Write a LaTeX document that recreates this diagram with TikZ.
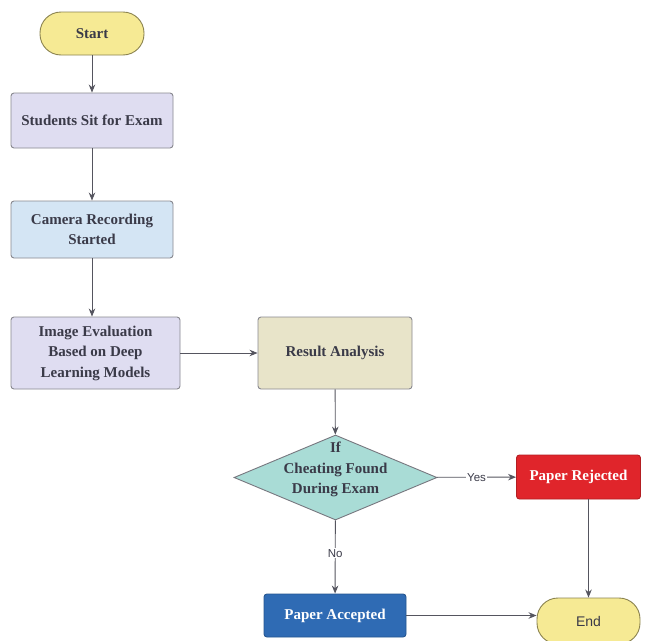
\documentclass[tikz,border=0pt]{standalone}
\usepackage{fontspec}
\setmainfont{Liberation Serif}
\newfontfamily\labelfont{Liberation Sans}
\usetikzlibrary{shapes.geometric,arrows.meta}
\definecolor{txt}{HTML}{3A3A48}
\definecolor{edge}{HTML}{55555F}
\definecolor{startfill}{HTML}{F6EA94}
\definecolor{startdraw}{HTML}{8C8450}
\definecolor{lav}{HTML}{DFDDF1}
\definecolor{sky}{HTML}{D4E5F4}
\definecolor{beige}{HTML}{E8E4C9}
\definecolor{teal}{HTML}{A9DCD6}
\definecolor{rejfill}{HTML}{E0252B}
\definecolor{accfill}{HTML}{2F6BB4}
\tikzset{
  x=1pt, y=-1pt,
  boxtext/.style={font=\bfseries\fontsize{15}{20.5}\selectfont, text=txt, align=center},
  base/.style={draw=#1, line width=0.9pt, boxtext, inner sep=0pt},
  terminal/.style={base=startdraw, fill=startfill, rounded corners=21pt},
  procbox/.style={base=edge!70, rounded corners=3pt},
  decision/.style={base=edge!80, diamond, fill=teal},
  flow/.style={draw=edge, line width=0.9pt, -{Stealth[length=8pt,width=6.5pt]}},
  branch/.style={font=\labelfont\fontsize{11.5}{13}\selectfont, text=txt, fill=white, inner sep=1pt}
}
\begin{document}
\begin{tikzpicture}
\useasboundingbox (0,0) rectangle (648,640);
\fill[white] (0,0) rectangle (648,640);

\node[terminal, minimum width=104pt, minimum height=43pt] (start) at (92,33.5) {Start};
\node[procbox, fill=lav, minimum width=162pt, minimum height=55pt] (sit) at (92,120.5) {Students Sit for Exam};
\node[procbox, fill=sky, minimum width=162pt, minimum height=57pt] (cam) at (92,229.5) {Camera Recording\\Started};
\node[procbox, fill=lav, minimum width=169pt, minimum height=72pt] (eval) at (95.5,353) {Image Evaluation\\Based on Deep\\Learning Models};
\node[procbox, fill=beige, minimum width=154pt, minimum height=72pt] (res) at (335,353) {Result Analysis};
% the diamond keeps a fixed size; its text sits above the centre
\node[decision, minimum width=203pt, minimum height=85pt, aspect=2.39,
      label={[boxtext, yshift=8pt]center:If\\Cheating Found\\During Exam}] (dec) at (335.5,477.5) {};
\node[procbox, draw=rejfill!80!black, fill=rejfill, text=white, minimum width=124pt, minimum height=44pt] (rej) at (578.5,477) {Paper Rejected};
\node[procbox, draw=accfill!80!black, fill=accfill, text=white, minimum width=142pt, minimum height=43pt] (acc) at (335,615.5) {Paper Accepted};
\node[terminal, font=\labelfont\fontsize{14}{16}\selectfont, minimum width=103pt, minimum height=46pt] (end) at (588.5,621) {End};

\draw[flow] (start) -- (sit);
\draw[flow] (sit) -- (cam);
\draw[flow] (cam.south -| 92,0) -- (eval.north -| 92,0);
\draw[flow] (eval) -- (res);
\draw[flow] (res) -- (dec);
\draw[flow] (dec) -- node[branch, pos=0.5] {Yes} (rej);
\draw[flow] (dec) -- node[branch, pos=0.45] {No} (acc);
\draw[flow] (rej.south -| end.north) -- (end.north);
\draw[flow] (acc.east) -- (acc.east -| end.west);
\end{tikzpicture}
\end{document}
